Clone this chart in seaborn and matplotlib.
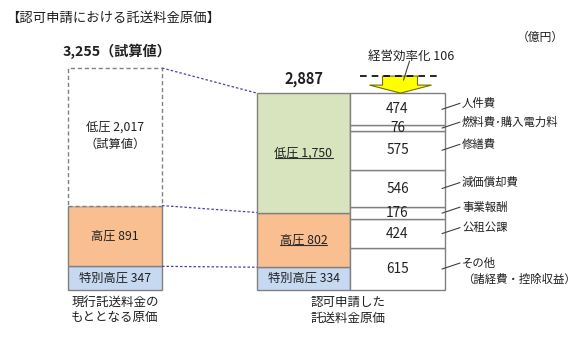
import numpy as np
import matplotlib
matplotlib.use("Agg")
import matplotlib.pyplot as plt
import seaborn as sns
from matplotlib.patches import Polygon

sns.set_theme(style="white")
plt.rcParams['font.family'] = ['Noto Sans CJK JP', 'DejaVu Sans']

# ---------------- data ----------------
title = "【認可申請における託送料金原価】"
unit_label = "（億円）"
current_labels = ["特別高圧", "高圧", "低圧"]
current_values = [347, 891, 2017]
current_total = 3255
applied_labels = ["特別高圧", "高圧", "低圧"]
applied_values = [334, 802, 1750]
applied_total = 2887
cost_items = ["その他\n（諸経費・控除収益）", "公租公課", "事業報酬", "減価償却費",
              "修繕費", "燃料費･購入電力料", "人件費"]
cost_values = [615, 424, 176, 546, 575, 76, 474]
efficiency_label = "経営効率化"
efficiency_value = 106
bar_captions = ["現行託送料金の\nもととなる原価", "認可申請した\n託送料金原価"]

# ---------------- style ----------------
blue = "#C6D9F1"
orange = "#F9BF90"
green = "#D7E4BD"
edge = "#808080"
seg_colors = [blue, orange, green]

fig = plt.figure(figsize=(5.8, 3.4), dpi=100)
ax = fig.add_axes([0, 0, 1, 1])
PX = current_total / 222.0          # data units per pixel
ax.set_xlim(0, 580)
ax.set_ylim(-50 * PX, 290 * PX)
ax.axis("off")

x_left, w_left = 115, 94
x_green, w_green = 303.5, 93
x_white, w_white = 397.5, 95

# ---- current (left) bar ----
cur_bottoms = np.concatenate([[0], np.cumsum(current_values)[:-1]])
cur_tops = np.cumsum(current_values)
for i, (lab, v, b) in enumerate(zip(current_labels, current_values, cur_bottoms)):
    if i == 2:
        ax.bar(x_left, v, w_left, bottom=b, color="white", edgecolor=edge,
               linewidth=1, linestyle=(0, (3, 2)), zorder=2)
        txt = f"{lab} {v:,}\n（試算値）"
    else:
        ax.bar(x_left, v, w_left, bottom=b, color=seg_colors[i], edgecolor=edge,
               linewidth=1, zorder=2)
        txt = f"{lab} {v:,}"
    ax.text(x_left, b + v / 2 + (1 * PX if i == 2 else 0), txt, ha="center", va="center",
            fontsize=8.8, color="#202020", linespacing=1.5, zorder=4)

# ---- applied (right) bar: green column ----
app_bottoms = np.concatenate([[0], np.cumsum(applied_values)[:-1]])
app_tops = np.cumsum(applied_values)
underline_texts = []
for i, (lab, v, b) in enumerate(zip(applied_labels, applied_values, app_bottoms)):
    ax.bar(x_green, v, w_green, bottom=b, color=seg_colors[i], edgecolor=edge,
           linewidth=1, zorder=2)
    t = ax.text(x_green, b + v / 2, f"{lab} {v:,}", ha="center", va="center",
                fontsize=8.8, color="#202020", zorder=4)
    if i > 0:
        underline_texts.append(t)

# ---- applied (right) bar: cost breakdown ----
cost_bottoms = np.concatenate([[0], np.cumsum(cost_values)[:-1]])
right_edge = x_white + w_white / 2
for name, v, b in zip(cost_items, cost_values, cost_bottoms):
    ax.bar(x_white, v, w_white, bottom=b, color="white", edgecolor=edge,
           linewidth=1, zorder=2)
    mid = b + v / 2
    ax.text(x_white, mid, f"{v:,}", ha="center", va="center", fontsize=9.8,
            color="#202020", zorder=4)
    ax.plot([right_edge - 3, right_edge + 15], [mid, mid + 6 * PX],
            color="#404040", lw=0.8, zorder=5)
    if "\n" in name:
        l1, l2 = name.split("\n")
        ax.text(right_edge + 17, mid + 6 * PX, l1, ha="left", va="center",
                fontsize=8.2, color="#202020")
        ax.text(right_edge + 17, mid - 10 * PX, l2, ha="left", va="center",
                fontsize=8.2, color="#202020")
    else:
        ax.text(right_edge + 17, mid + 6 * PX, name, ha="left", va="center",
                fontsize=8.2, color="#202020")

# ---- connector dashed lines ----
for ct, at in zip(cur_tops, app_tops):
    ax.plot([x_left + w_left / 2, x_green - w_green / 2], [ct, at],
            color="#4646A8", lw=0.9, linestyle=(0, (2, 1.6)), zorder=3)

# ---- totals ----
ax.text(x_left + 2, current_total + 9 * PX, f"{current_total:,}（試算値）", ha="center",
        va="bottom", fontsize=10.2, fontweight="bold", color="#202020")
ax.text(x_green, applied_total + 6 * PX, f"{applied_total:,}", ha="center",
        va="bottom", fontsize=10.5, fontweight="bold", color="#202020")

# ---- efficiency arrow ----
tip = applied_total
mid_y = tip + 8 * PX
top_y = tip + 17 * PX
ax.plot([x_white - 38, x_white + 40], [top_y, top_y], color="black", lw=1.2,
        linestyle=(0, (4, 3)), zorder=5)
arrow = Polygon([(x_white - 15, top_y), (x_white + 20, top_y), (x_white + 20, mid_y),
                 (x_white + 34, mid_y), (x_white + 3, tip), (x_white - 28, mid_y),
                 (x_white - 15, mid_y)], closed=True, facecolor="#FFFF00",
                edgecolor="#707000", lw=0.8, zorder=4)
ax.add_patch(arrow)
ax.text(x_white + 14, tip + 37 * PX, f"{efficiency_label} {efficiency_value}",
        ha="center", va="center", fontsize=9, color="#202020")
ax.plot([x_white + 12, x_white + 6], [tip + 32 * PX, tip + 13 * PX],
        color="#404040", lw=0.8, zorder=6)

# ---- captions ----
ax.text(x_left, -6 * PX, bar_captions[0], ha="center", va="top", fontsize=9,
        color="#202020", linespacing=1.25)
ax.text((x_green - w_green / 2 + right_edge) / 2 - 3, -6 * PX, bar_captions[1],
        ha="center", va="top", fontsize=9, color="#202020", linespacing=1.25)

# ---- title and unit ----
ax.text(6, 272 * PX, title, ha="left", va="center", fontsize=9.6, color="#202020")
ax.text(540, 253 * PX, unit_label, ha="center", va="center", fontsize=8.5,
        color="#202020")

# ---- underline for green-column labels ----
fig.canvas.draw()
renderer = fig.canvas.get_renderer()
inv = ax.transData.inverted()
for t in underline_texts:
    bb = t.get_window_extent(renderer)
    (x0, y0), (x1, _) = inv.transform([(bb.x0, bb.y0 + 1), (bb.x1, bb.y0 + 1)])
    ax.plot([x0, x1], [y0, y0], color="#303030", lw=0.8, zorder=5)

fig.savefig("out.png", dpi=100, facecolor="white")
